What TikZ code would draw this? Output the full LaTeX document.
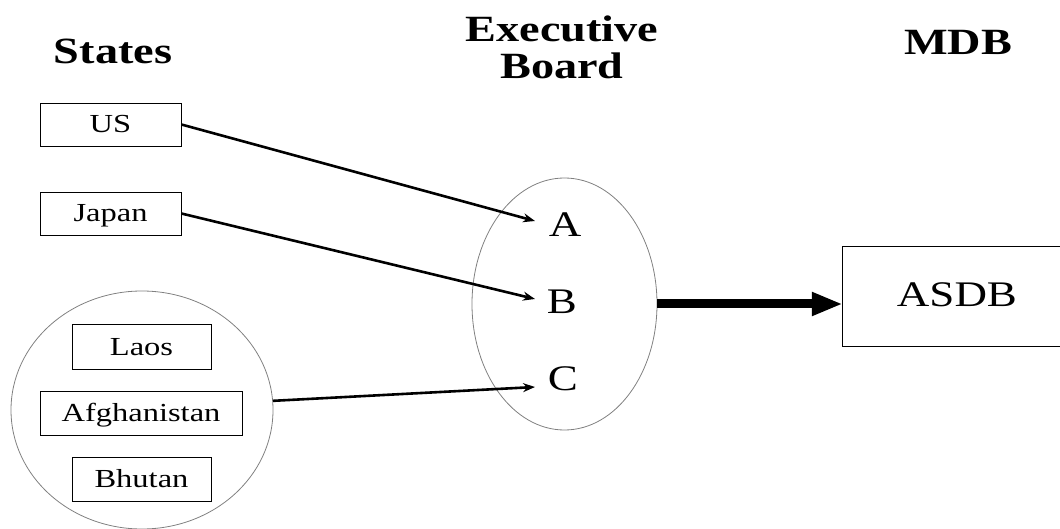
\documentclass[tikz,border=0pt]{standalone}
\usepackage{fontspec}
\setmainfont{Liberation Serif}
\usepackage{graphicx}
\usetikzlibrary{arrows.meta,shapes.geometric}
\newcommand{\wide}[1]{\scalebox{1.25}[1]{#1}}
\begin{document}
\begin{tikzpicture}[x=1pt,y=-1pt,
  head/.style={font=\bfseries\fontsize{37}{37}\selectfont, inner sep=0pt, anchor=base},
  statebox/.style={draw=black, line width=0.9pt, font=\fontsize{26}{26}\selectfont, text height=17pt, text depth=0pt, inner sep=0pt},
  ring/.style={ellipse, draw=gray, line width=0.8pt, inner sep=0pt},
  letter/.style={font=\fontsize{36}{36}\selectfont, inner sep=0pt, anchor=base},
  link/.style={line width=2.6pt, -{Stealth[length=12pt,width=9pt]}},
  bigarrow/.style={line width=9pt, -{Triangle[length=31pt,width=22pt]}}]
\useasboundingbox (0,0) rectangle (1060,529);

% headings
\node[head] (hstates) at (113,64) {\wide{States}};
\node[head] (hexec) at (562,42) {\wide{\begin{tabular}[t]{@{}c@{}}Executive\\Board\end{tabular}}};
\node[head] (hmdb) at (958,55) {\wide{MDB}};

% states
\node[statebox, minimum width=141pt, minimum height=43pt] (us) at (110.5,124.5) {\wide{US}};
\node[statebox, minimum width=141pt, minimum height=43pt] (japan) at (110.5,213.5) {\wide{Japan}};
\node[ring, minimum width=262pt, minimum height=238pt] (grp) at (142,410) {};
\node[statebox, minimum width=139pt, minimum height=45pt] (laos) at (141.5,346.5) {\wide{Laos}};
\node[statebox, minimum width=202pt, minimum height=44pt] (afg) at (141,413) {\wide{Afghanistan}};
\node[statebox, minimum width=139pt, minimum height=44pt] (bhutan) at (141.5,479) {\wide{Bhutan}};

% executive board
\node[ring, minimum width=185pt, minimum height=252pt] (exec) at (564.5,304) {};
\node[letter] (A) at (565,237) {\wide{A}};
\node[letter] (B) at (562,313) {\wide{B}};
\node[letter] (C) at (563,390) {\wide{C}};
\coordinate (tA) at (535,221);
\coordinate (tB) at (535,299);
\coordinate (tC) at (535,387);

% MDB
\node[draw=none, minimum width=217pt, minimum height=99pt, inner sep=0pt] (asdb) at (951.5,296.5) {};
\draw[line width=0.9pt] (asdb.north east) -- (asdb.north west) -- (asdb.south west) -- (asdb.south east);
\node[letter] (asdbtext) at (957,306) {\wide{ASDB}};

% connectors
\draw[link] (us.east) -- (tA);
\draw[link] (japan.east) -- (tB);
\draw[link] (grp.4) -- (tC);
\draw[bigarrow] (exec.east) -- (exec.east -| asdb.west);
\end{tikzpicture}
\end{document}
